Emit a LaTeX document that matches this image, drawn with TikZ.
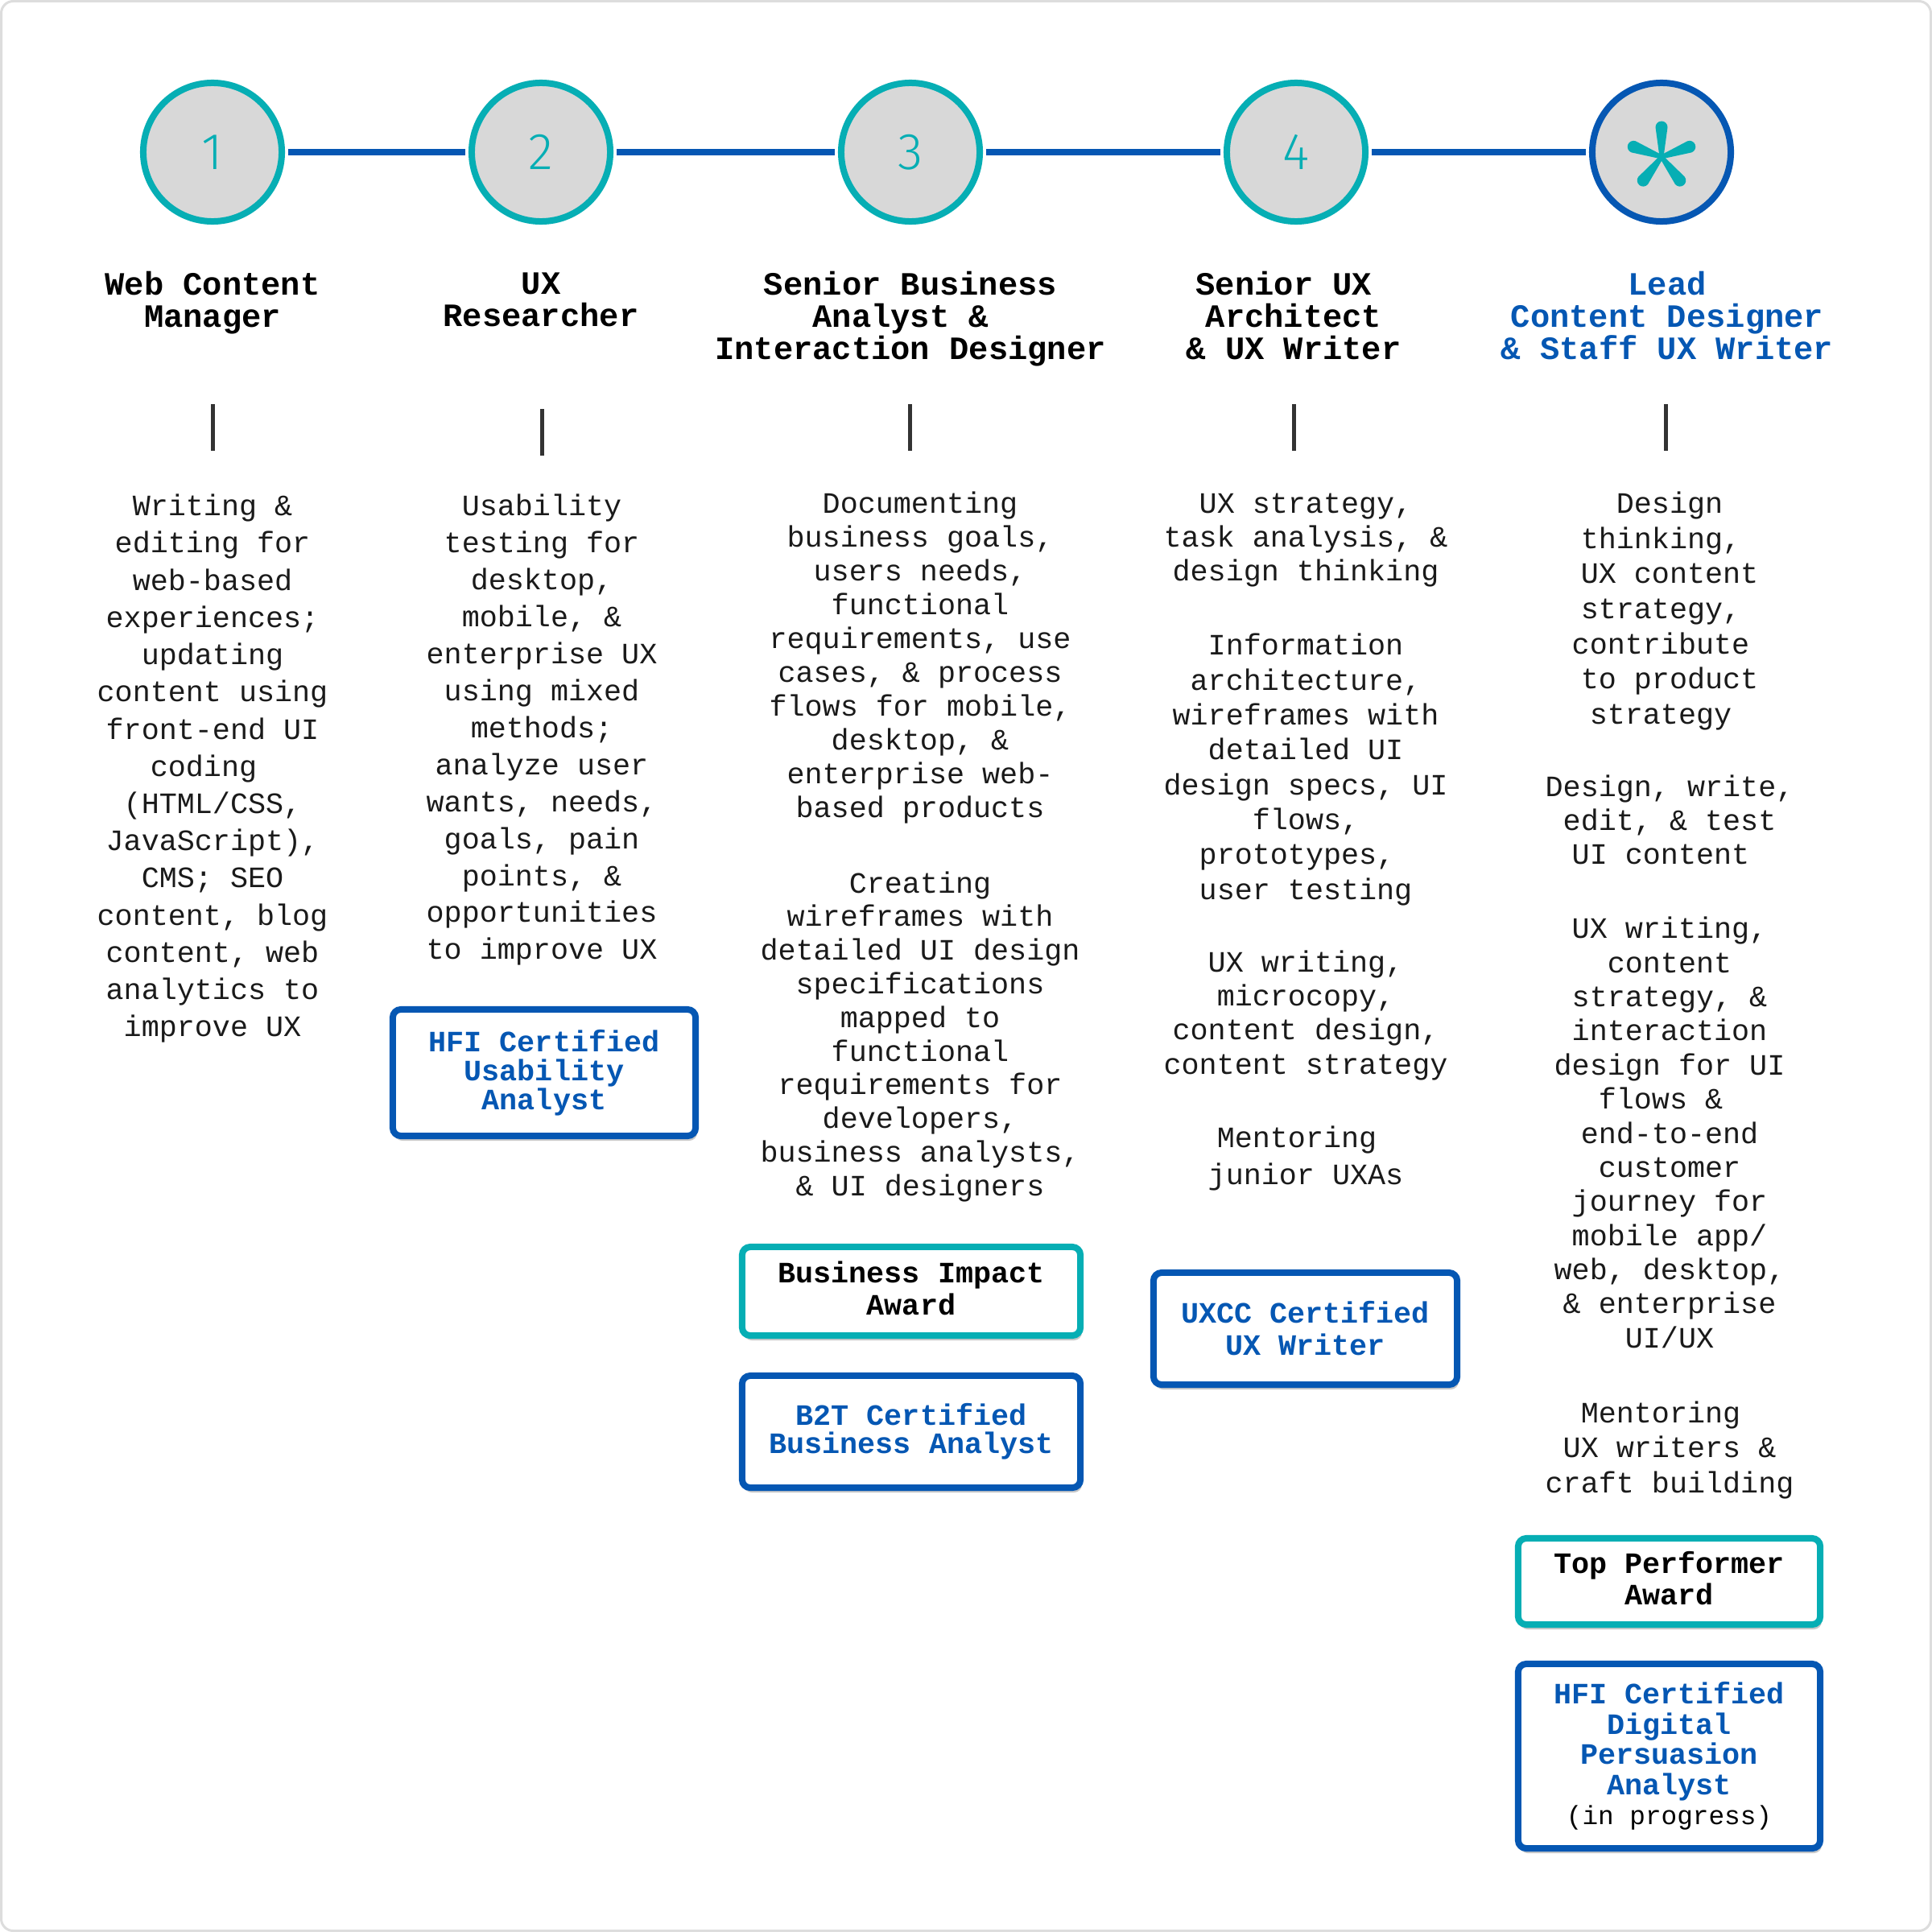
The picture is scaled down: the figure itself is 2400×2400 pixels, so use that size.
\documentclass[tikz,border=0pt]{standalone}
\usepackage{fontspec}
\newfontfamily\mono{Liberation Mono}
\IfFontExistsTF{Fira Sans Light}{\newfontfamily\numfont{Fira Sans Light}}{\newfontfamily\numfont{Fira Sans}}
\usetikzlibrary{shadows}
\definecolor{tealc}{HTML}{06AEB4}
\definecolor{bluec}{HTML}{0557B3}
\definecolor{ringfill}{HTML}{D8D8D8}
\definecolor{framec}{HTML}{DDDDDD}
\definecolor{tickc}{HTML}{333333}
\definecolor{textc}{HTML}{1A1A1A}
\newcommand\bodyfs[1]{\mono\fontsize{10.45pt}{#1pt}\selectfont\lineskiplimit=-50pt\lineskip=0pt}
\newcommand\titlefs{\mono\bfseries\fontsize{11.5pt}{11.38pt}\selectfont\lineskiplimit=-50pt\lineskip=0pt}
\newcommand\badgefs[1]{\mono\bfseries\fontsize{10.45pt}{#1pt}\selectfont\lineskiplimit=-50pt\lineskip=0pt}
\newcommand\tr{\hphantom{x}}
\newcommand\dn[1]{\rule[-#1]{0pt}{0pt}}
\tikzset{
  stepc/.style={circle, draw=tealc, fill=ringfill, line width=0.08cm, minimum size=1.72cm, inner sep=0pt, text=tealc, font=\numfont\fontsize{18.2pt}{20pt}\selectfont},
  conn/.style={draw=bluec, line width=0.08cm, shorten <=0.04cm, shorten >=0.04cm},
  title/.style={anchor=north, align=center, inner sep=0pt, font=\titlefs, text=black},
  body/.style={anchor=north, align=center, inner sep=0pt, text=textc},
  badge/.style={draw, rounded corners=0.1cm, line width=0.08cm, fill=white, align=center, inner sep=0pt, drop shadow={shadow xshift=0.02cm, shadow yshift=-0.06cm, opacity=0.3, fill=black!70}},
  tick/.style={draw=tickc, line width=0.05cm},
}
\begin{document}
\begin{tikzpicture}[x=0.01cm, y=-0.01cm]
\useasboundingbox (0,0) rectangle (2400,2400);
\fill[white] (0,0) rectangle (2400,2400);
\draw[framec, line width=0.03cm, rounded corners=0.15cm] (1.5,1.5) rectangle (2398.5,2398.5);

% circles
\node[stepc] (c1) at (264,189) {1};
\node[stepc] (c2) at (672,189) {2};
\node[stepc] (c3) at (1131,189) {3};
\node[stepc] (c4) at (1610,189) {4};
\node[stepc, draw=bluec] (c5) at (2064,189) {};
\draw[conn] (c1) -- (c2);
\draw[conn] (c2) -- (c3);
\draw[conn] (c3) -- (c4);
\draw[conn] (c4) -- (c5);
\begin{scope}[shift={(2064,195)}, x=0.01cm, y=0.01cm]
\foreach \a in {90,20,160,-52,232}
  \fill[tealc, rotate=\a] (0,-2.5) -- (37,-7.5) arc[start angle=-90, end angle=90, radius=7.5] -- (0,2.5) -- cycle;
\end{scope}

% titles
\node[title] (t1) at (264,336.5) {\strut Web Content\\Manager};
\node[title] (t2) at (672,336.5) {\strut UX\\Researcher};
\node[title] (t3) at (1131,336.5) {\strut Senior Business\\Analyst \&\tr\\Interaction Designer};
\node[title] (t4) at (1607,336.5) {\strut Senior UX\tr\\Architect\\\& UX Writer};
\node[title, text=bluec] (t5) at (2071,336.5) {\strut Lead\\Content Designer\\\& Staff UX Writer};

% ticks
\draw[tick] (264,502) -- (264,560);
\draw[tick] (673,508) -- (673,566);
\draw[tick] (1130,502) -- (1130,560);
\draw[tick] (1607,502) -- (1607,560);
\draw[tick] (2069,502) -- (2069,560);

% column 1
\node[body, font={\bodyfs{13.14}}] (p1) at (264,607.7) {\strut Writing \&\\editing for\\web-based\\experiences;\\updating\\content using\\front-end UI\\coding\tr\\(HTML/CSS,\\JavaScript),\\CMS; SEO\\content, blog\\content, web\\analytics to\\improve UX};

% column 2
\node[body, font={\bodyfs{13.06}}] (p2) at (673,607.9) {\strut Usability\\testing for\\desktop,\\mobile, \&\\enterprise UX\\using mixed\\methods;\\analyze user\\wants, needs,\\goals, pain\\points, \&\\opportunities\\to improve UX};
\node[badge, draw=bluec, text=bluec, font={\badgefs{10.24}}, minimum width=3.76cm, minimum height=1.57cm] (b1) at (676,1332.5) {HFI Certified\\Usability\\Analyst};

% column 3
\node[body, font={\bodyfs{11.95}}] (p3a) at (1143,607.6) {\strut Documenting\\business goals,\\users needs,\\functional\\requirements, use\\cases, \& process\\flows for mobile,\\desktop, \&\\enterprise web-\\based products};
\node[body, font={\bodyfs{11.89}}] (p3b) at (1143,1079.1) {\strut Creating\\wireframes with\\detailed UI design\\specifications\\mapped to\\functional\\requirements for\\developers,\\business analysts,\\\& UI designers};
\node[badge, draw=tealc, text=black, font={\badgefs{11.24}}, minimum width=4.20cm, minimum height=1.10cm] (b2) at (1132,1604) {Business Impact\\Award\dn{0.08cm}};
\node[badge, draw=bluec, text=bluec, font={\badgefs{9.96}}, minimum width=4.20cm, minimum height=1.39cm] (b3) at (1132,1778.5) {B2T Certified\\Business Analyst\dn{0.05cm}};

% column 4
\node[body, font={\bodyfs{11.95}}] (p4a) at (1622,607.6) {\strut UX strategy,\\task analysis, \&\\design thinking};
\node[body, font={\bodyfs{12.32}}] (p4b) at (1622,782.7) {\strut Information\\architecture,\\wireframes with\\detailed UI\\design specs, UI\\flows,\\prototypes,\tr\\user testing};
\node[body, font={\bodyfs{12.06}}] (p4c) at (1622,1176.7) {\strut UX writing,\\microcopy,\\content design,\\content strategy};
\node[body, font={\bodyfs{13.09}}] (p4d) at (1622,1393) {\strut Mentoring\tr\\junior UXAs};
\node[badge, draw=bluec, text=bluec, font={\badgefs{11.38}}, minimum width=3.77cm, minimum height=1.39cm] (b4) at (1621.5,1650.5) {UXCC Certified\\UX Writer\dn{0.02cm}};

% column 5
\node[body, font={\bodyfs{12.4}}] (p5a) at (2074,606.5) {\strut Design\\thinking,\tr\\UX content\\strategy,\tr\\contribute\tr\\to product\\strategy\tr};
\node[body, font={\bodyfs{11.95}}] (p5b) at (2074,959.6) {\strut Design, write,\\edit, \& test\\UI content\tr};
\node[body, font={\bodyfs{12.05}}] (p5c) at (2074,1135.4) {\strut UX writing,\\content\\strategy, \&\\interaction\\design for UI\\flows \&\tr\\end-to-end\\customer\\journey for\\mobile app/\\web, desktop,\\\& enterprise\\UI/UX};
\node[body, font={\bodyfs{12.4}}] (p5d) at (2074,1736) {\strut Mentoring\tr\\UX writers \&\\craft building};
\node[badge, draw=tealc, text=black, font={\badgefs{10.9}}, minimum width=3.75cm, minimum height=1.07cm] (b5) at (2073.5,1964.5) {Top Performer\\Award\dn{0.08cm}};
\node[badge, draw=bluec, text=bluec, font={\badgefs{10.67}}, minimum width=3.75cm, minimum height=2.29cm] (b6) at (2073.5,2181.5) {HFI Certified\\Digital\\Persuasion\\Analyst\\{\mdseries\color{black}\fontsize{9.3pt}{10pt}\selectfont(in progress)}};
\end{tikzpicture}
\end{document}
